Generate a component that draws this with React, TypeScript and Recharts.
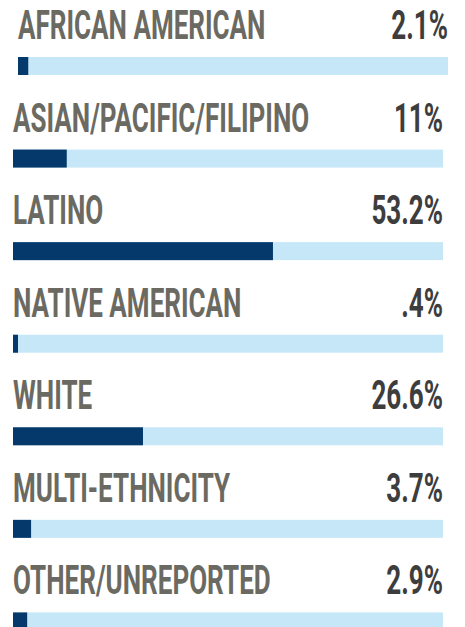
import { BarChart, Bar, XAxis, YAxis, LabelList } from "recharts";

const groups = [
  "AFRICAN AMERICAN",
  "ASIAN/PACIFIC/FILIPINO",
  "LATINO",
  "NATIVE AMERICAN",
  "WHITE",
  "MULTI-ETHNICITY",
  "OTHER/UNREPORTED",
];
const shares = [2.1, 11, 53.2, 0.4, 26.6, 3.7, 2.9];
const shareLabels = ["2.1%", "11%", "53.2%", ".4%", "26.6%", "3.7%", "2.9%"];

const data = groups.map((name, i) => ({
  name,
  value: shares[i],
  pct: shareLabels[i],
}));

const W = 465;
const H = 668;
const margin = { top: 20, right: 22, left: 13, bottom: 0 };
const trackRight = W - margin.right;
const NAVY = "#05386b";
const TRACK = "#c5e7f8";
const FONT = "Roboto, 'Liberation Sans', sans-serif";
const SX = 0.635;

const RowText = (props: any) => {
  const { x, y, index } = props;
  const dx = index === 0 ? 5 : 0;
  const ty = y - 18;
  return (
    <g>
      <text
        transform={`translate(${x + dx},${ty}) scale(${SX},1)`}
        fontFamily={FONT}
        fontWeight={700}
        fontSize={41}
        fill="#6b6a62"
        textAnchor="start"
      >
        {groups[index]}
      </text>
      <text
        transform={`translate(${trackRight + dx},${ty}) scale(${SX},1)`}
        fontFamily={FONT}
        fontWeight={700}
        fontSize={41}
        fill="#3d3d3d"
        textAnchor="end"
      >
        {shareLabels[index]}
      </text>
    </g>
  );
};

const RowBar = (props: any) => {
  const { x, y, width, height, index } = props;
  const dx = index === 0 ? 5 : 0;
  return (
    <g>
      <rect x={x + dx} y={y} width={trackRight - x} height={height} fill={TRACK} />
      <rect x={x + dx} y={y} width={width} height={height} fill={NAVY} />
    </g>
  );
};

export default function App() {
  return (
    <div style={{ position: "absolute", left: 0, top: 0, background: "#fff" }}>
      <BarChart
        width={W}
        height={H}
        data={data}
        layout="vertical"
        margin={margin}
        barCategoryGap={0}
      >
        <XAxis type="number" domain={[0, 88]} hide />
        <YAxis type="category" dataKey="name" hide />
        <Bar
          dataKey="value"
          barSize={18}
          minPointSize={5}
          shape={RowBar}
          isAnimationActive={false}
        >
          <LabelList dataKey="pct" content={RowText} />
        </Bar>
      </BarChart>
    </div>
  );
}
